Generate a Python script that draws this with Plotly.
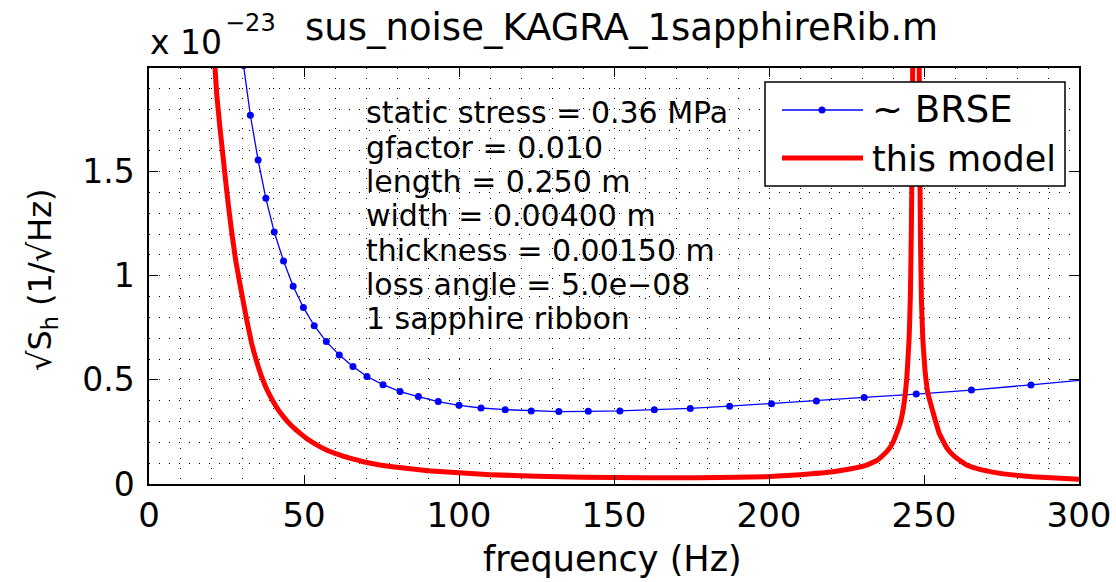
import plotly.graph_objects as go

# ---------------- data ----------------
blue_f = [28.5, 30.5, 32.7, 35.2, 37.7, 40.4, 43.4, 46.5, 49.8, 53.3, 57.2, 61.4, 65.8,
          70.3, 75.5, 81.0, 86.9, 93.3, 100.0, 107.1, 114.9, 123.3, 132.2, 141.7, 151.9,
          163.0, 174.6, 187.3, 200.8, 215.3, 230.7, 247.5, 265.3, 284.5, 305.0]
blue_v = [2.29, 2.01, 1.771, 1.556, 1.372, 1.210, 1.071, 0.950, 0.848, 0.760, 0.684, 0.619,
          0.564, 0.516, 0.477, 0.444, 0.420, 0.396, 0.378, 0.365, 0.357, 0.351, 0.348, 0.349,
          0.351, 0.357, 0.363, 0.374, 0.386, 0.399, 0.416, 0.432, 0.451, 0.476, 0.505]

red_f = [19.5, 21.3, 21.8, 22.9, 24.0, 25.2, 26.45, 28.0, 29.9, 31.5, 33.1, 34.7, 36.35, 38.8,
         41.7, 43.3, 45.0, 46.8, 48.7, 50.5, 52.5, 54.8, 57.3, 60.0, 63.0, 66.0, 69.1, 74.5,
         80.0, 90.0, 100.0, 110.0, 125.0, 140.0, 160.0, 177.0, 190.0, 199.0, 210.0, 220.7,
         226.0, 231.5, 235.0, 238.0, 240.0, 242.3, 243.5, 244.5, 245.2, 245.6, 245.9, 246.15,
         246.35, 246.7, 247.4, 248.1, 248.45, 248.65, 248.85, 249.15, 249.6, 250.3, 251.2,
         253.0, 255.0, 257.5, 260.0, 263.8, 268.0, 274.5, 285.0, 300.0]
red_v = [2.45, 2.0, 1.88, 1.71, 1.556, 1.39, 1.236, 1.07, 0.916, 0.79, 0.676, 0.59, 0.515, 0.43,
         0.356, 0.325, 0.295, 0.268, 0.244, 0.222, 0.202, 0.182, 0.163, 0.147, 0.132, 0.119,
         0.107, 0.091, 0.080, 0.064, 0.054, 0.045, 0.037, 0.033, 0.030, 0.030, 0.032, 0.035,
         0.045, 0.059, 0.072, 0.091, 0.115, 0.155, 0.20, 0.29, 0.38, 0.52, 0.70, 0.90, 1.20,
         1.55, 2.0, 3.5, 10.0, 3.5, 2.0, 1.55, 1.20, 0.90, 0.70, 0.55, 0.44, 0.34, 0.24, 0.17,
         0.13, 0.091, 0.07, 0.051, 0.035, 0.023]

series_names = ["~ BRSE", "this model"]
x_ticks = [0, 50, 100, 150, 200, 250, 300]
y_ticks = [0, 0.5, 1, 1.5]
y_tick_text = ["0", "0.5", "1", "1.5"]
info_lines = ["static stress = 0.36 MPa", "gfactor = 0.010", "length = 0.250 m",
              "width = 0.00400 m", "thickness = 0.00150 m", "loss angle = 5.0e\u221208",
              "1 sapphire ribbon"]
title_text = "sus_noise_KAGRA_1sapphireRib.m"
x_label = "frequency (Hz)"
y_label = "\u221aS<sub>h</sub> (1/\u221aHz)"

# ---------------- layout geometry ----------------
W, H = 1116, 582
L, R, T, B = 149, 1079, 68, 484
FONT = "DejaVu Sans"
BLUE = "#0000ff"
RED = "#ff0000"


def px(x):
    return (x - L) / (R - L)


def py(y):
    return (B - y) / (B - T)


fig = go.Figure()
fig.add_trace(go.Scatter(x=blue_f, y=blue_v, mode="lines+markers", name=series_names[0],
                         line=dict(color=BLUE, width=1.3),
                         marker=dict(color=BLUE, size=7), showlegend=False))
fig.add_trace(go.Scatter(x=red_f, y=red_v, mode="lines", name=series_names[1],
                         line=dict(color=RED, width=5, shape="spline", smoothing=0.3),
                         showlegend=False))

grid = dict(gridcolor="#000000", griddash="1px,9px", gridwidth=1)
fig.update_xaxes(range=[0, 300], tickvals=x_ticks, ticks="inside", ticklen=9, tickwidth=1,
                 tickcolor="black", showline=True, linecolor="black", linewidth=1.5,
                 mirror="ticks", zeroline=False, showgrid=True, **grid, automargin=False,
                 minor=dict(dtick=10, showgrid=True, **grid),
                 tickfont=dict(family=FONT, size=34, color="black"),
                 ticklabelstandoff=0)
fig.update_yaxes(range=[0, 1.998], tickvals=y_ticks, ticktext=y_tick_text, ticks="inside",
                 ticklen=9, tickwidth=1, tickcolor="black", showline=True, linecolor="black",
                 linewidth=1.5, mirror="ticks", zeroline=False, showgrid=True, **grid,
                 automargin=False,
                 minor=dict(dtick=0.1, showgrid=True, **grid),
                 tickfont=dict(family=FONT, size=33, color="black"),
                 ticklabelstandoff=6)

anns = []
# title and exponent
anns.append(dict(x=px(621), y=py(28), xref="paper", yref="paper", text=title_text,
                 showarrow=False, xanchor="center", yanchor="middle",
                 font=dict(family=FONT, size=37, color="black")))
anns.append(dict(x=px(148), y=py(42), xref="paper", yref="paper", text="x 10",
                 showarrow=False, xanchor="left", yanchor="middle",
                 font=dict(family=FONT, size=33, color="black")))
anns.append(dict(x=px(223), y=py(23), xref="paper", yref="paper", text="\u221223",
                 showarrow=False, xanchor="left", yanchor="middle",
                 font=dict(family=FONT, size=24, color="black")))
# axis labels
anns.append(dict(x=px(612), y=py(559), xref="paper", yref="paper", text=x_label,
                 showarrow=False, xanchor="center", yanchor="middle",
                 font=dict(family=FONT, size=35, color="black")))
anns.append(dict(x=px(42), y=py(280), xref="paper", yref="paper", text=y_label,
                 showarrow=False, xanchor="center", yanchor="middle", textangle=-90,
                 font=dict(family=FONT, size=32, color="black")))
# info text
for i, line in enumerate(info_lines):
    anns.append(dict(x=px(364), y=py(113 + 34.3 * i), xref="paper", yref="paper", text=line,
                     showarrow=False, xanchor="left", yanchor="middle",
                     font=dict(family=FONT, size=30, color="black")))

# manual legend
shapes = []
shapes.append(dict(type="rect", xref="paper", yref="paper", x0=px(765), x1=px(1065),
                   y0=py(186), y1=py(82), fillcolor="white", line=dict(color="black", width=1.5),
                   layer="above"))
shapes.append(dict(type="line", xref="paper", yref="paper", x0=px(782), x1=px(863),
                   y0=py(110), y1=py(110), line=dict(color=BLUE, width=1.3), layer="above"))
shapes.append(dict(type="circle", xref="paper", yref="paper", xsizemode="pixel",
                   ysizemode="pixel", xanchor=px(822), yanchor=py(110), x0=-3.5, x1=3.5,
                   y0=-3.5, y1=3.5, fillcolor=BLUE, line=dict(color=BLUE, width=0),
                   layer="above"))
shapes.append(dict(type="line", xref="paper", yref="paper", x0=px(782), x1=px(863),
                   y0=py(158), y1=py(158), line=dict(color=RED, width=5), layer="above"))
anns.append(dict(x=px(870), y=py(110), xref="paper", yref="paper", text=series_names[0],
                 showarrow=False, xanchor="left", yanchor="middle",
                 font=dict(family=FONT, size=37, color="black")))
anns.append(dict(x=px(870), y=py(159), xref="paper", yref="paper", text=series_names[1],
                 showarrow=False, xanchor="left", yanchor="middle",
                 font=dict(family=FONT, size=35, color="black")))

fig.update_layout(width=W, height=H, margin=dict(l=L, r=W - R, t=T, b=H - B, autoexpand=False),
                  paper_bgcolor="white", plot_bgcolor="white", showlegend=False,
                  annotations=anns, shapes=shapes)

fig.write_html("out.html")
